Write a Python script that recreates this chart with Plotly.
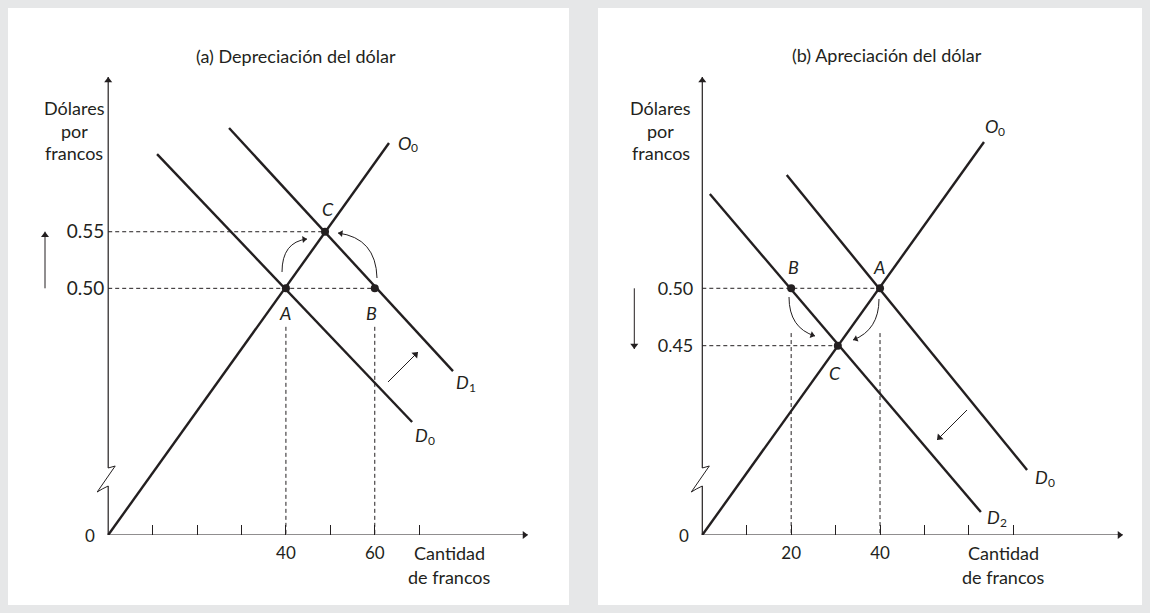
import math
import plotly.graph_objects as go

W, H = 1150, 613
INK = "#231f20"
BG = "#e6e7e8"
FONT = "Lato, 'Noto Sans', sans-serif"

# ---------------- data: panel (a) Depreciación del dólar ----------------
a_title = "(a) Depreciación del dólar"
a_x_ticks = [10, 20, 30, 40, 50, 60, 70]          # tick marks on the quantity axis
a_x_labeled = [40, 60]                             # labelled quantities
a_x_labels = ["40", "60"]
a_p0 = 0.2821                                      # price at the (broken) origin
a_y_ticks = [0.50, 0.55]
a_y_ticktext = ["0.50", "0.55"]
a_O0_q = [0.0, 63.2]
a_O0_p = [0.2821, 0.6284]
a_D0_q = [11.0, 68.4]
a_D0_p = [0.6186, 0.3819]
a_D1_q = [27.2, 77.6]
a_D1_p = [0.6416, 0.4269]
a_curve_names = [("O", "0"), ("D", "0"), ("D", "1")]
a_pt_labels = ["A", "B", "C"]
a_pt_q = [40, 60, 48.8]
a_pt_p = [0.50, 0.50, 0.55]
a_guide_top = 0.466

# ---------------- data: panel (b) Apreciación del dólar ----------------
b_title = "(b) Apreciación del dólar"
b_x_ticks = [10, 20, 30, 40, 50, 60, 70]
b_x_labeled = [20, 40]
b_x_labels = ["20", "40"]
b_p0 = 0.2851
b_y_ticks = [0.45, 0.50]
b_y_ticktext = ["0.45", "0.50"]
b_O0_q = [0.0, 63.4]
b_O0_p = [0.2851, 0.6274]
b_D0_q = [19.0, 73.1]
b_D0_p = [0.5987, 0.3417]
b_D2_q = [1.7, 62.7]
b_D2_p = [0.5821, 0.3051]
b_curve_names = [("O", "0"), ("D", "0"), ("D", "2")]
b_pt_labels = ["A", "B", "C"]
b_pt_q = [40, 20, 30.5]
b_pt_p = [0.50, 0.50, 0.45]
b_guide_top = 0.461

origin_label = "0"
y_label_lines = ["Dólares", "por", "francos"]
x_label_lines = ["Cantidad", "de francos"]

# ---------------- geometry (pixels) ----------------
PAN = {
    "a": dict(ox=108.2, oy=535.0, kx=4.443, ky=1132.0, p0=a_p0, xa="x", ya="y",
              panel=(8, 8, 569, 605), title_xy=(296, 56), ylab_x=74, xlab_x=449,
              ystand=4, yfs=19),
    "b": dict(ox=702.3, oy=535.0, kx=4.443, ky=1148.0, p0=b_p0, xa="x2", ya="y2",
              panel=(598, 8, 1142, 605), title_xy=(887, 55), ylab_x=661, xlab_x=1003,
              ystand=9, yfs=18),
}
YLAB_Y = [108, 131, 153]
XLAB_Y = [553, 577]
QMIN, QMAX = -20.0, 97.0
TOP_PX = 70.0
X_END_PX = {"a": 528.0, "b": 1123.0}
Y_END_PX = 77.0


def px2paper(px, py):
    return px / W, 1 - py / H


def to_data(g, px, py):
    return (px - g["ox"]) / g["kx"], g["p0"] + (g["oy"] - py) / g["ky"]


fig = go.Figure()
shapes = []
annotations = []

line_style = dict(color=INK, width=2.4)
dash_style = dict(color=INK, width=1, dash="4px,3px")


def add_line(g, q, p, style):
    fig.add_trace(go.Scatter(x=q, y=p, mode="lines", line=style, xaxis=g["xa"], yaxis=g["ya"],
                             hoverinfo="skip", showlegend=False))


def head(g, frm, to, size=7):
    dx, dy = to[0] - frm[0], to[1] - frm[1]
    n = math.hypot(dx, dy)
    ux, uy = dx / n, dy / n
    cx, cy = to[0] - ux * size * 0.5, to[1] - uy * size * 0.5
    q, p = to_data(g, cx, cy)
    ang = math.degrees(math.atan2(ux, -uy))
    fig.add_trace(go.Scatter(x=[q], y=[p], mode="markers", xaxis=g["xa"], yaxis=g["ya"],
                             marker=dict(symbol="triangle-up", size=size, angle=ang, color=INK,
                                         line=dict(width=0)),
                             cliponaxis=False, hoverinfo="skip", showlegend=False))


def arrow(g, tail, tip, width=1.0, size=7):
    t = to_data(g, *tail)
    e = to_data(g, *tip)
    add_line(g, [t[0], e[0]], [t[1], e[1]], dict(color=INK, width=width))
    head(g, tail, tip, size)


def curved_arrow(g, start, ctrl, end):
    s = to_data(g, *start)
    c = to_data(g, *ctrl)
    e = to_data(g, *end)
    shapes.append(dict(type="path", xref=g["xa"], yref=g["ya"],
                       path=f"M {s[0]},{s[1]} Q {c[0]},{c[1]} {e[0]},{e[1]}",
                       line=dict(color=INK, width=1)))
    head(g, ctrl, end, 6)


def label(g, q, p, text, xs, ys, size=18, xanchor="center", italic=False):
    annotations.append(dict(x=q, y=p, xref=g["xa"], yref=g["ya"], text=text, showarrow=False,
                            xshift=xs, yshift=ys, xanchor=xanchor, yanchor="middle",
                            font=dict(family=FONT, size=size, color=INK,
                                      style="italic" if italic else "normal")))


def text_paper(xy, text, size=18):
    x, y = px2paper(*xy)
    annotations.append(dict(x=x, y=y, xref="paper", yref="paper", text=text, showarrow=False,
                            xanchor="center", yanchor="middle", align="center",
                            font=dict(family=FONT, size=size, color=INK)))


panels = {
    "a": dict(title=a_title, curves=[(a_O0_q, a_O0_p, 7, 0), (a_D0_q, a_D0_p, 1, -13),
                                     (a_D1_q, a_D1_p, 1, -11)],
              names=a_curve_names,
              pts=(a_pt_labels, a_pt_q, a_pt_p), ticks=a_x_ticks, xt=(a_x_labeled, a_x_labels),
              yt=(a_y_ticks, a_y_ticktext), guide=a_guide_top,
              lab_shift={"A": (-1, -25), "B": (-3, -25), "C": (3, 23)}),
    "b": dict(title=b_title, curves=[(b_O0_q, b_O0_p, -1, 16), (b_D0_q, b_D0_p, 6, -7),
                                     (b_D2_q, b_D2_p, 4, -5)],
              names=b_curve_names,
              pts=(b_pt_labels, b_pt_q, b_pt_p), ticks=b_x_ticks, xt=(b_x_labeled, b_x_labels),
              yt=(b_y_ticks, b_y_ticktext), guide=b_guide_top,
              lab_shift={"A": (-1, 21), "B": (2, 21), "C": (-3, -27)}),
}

layout_axes = {}
for key, g in PAN.items():
    d = panels[key]
    # white panel
    x0, y0, x1, y1 = g["panel"]
    px0, py0 = px2paper(x0, y1)
    px1, py1 = px2paper(x1, y0)
    shapes.append(dict(type="rect", xref="paper", yref="paper", x0=px0, y0=py0, x1=px1, y1=py1,
                       fillcolor="white", line=dict(width=0), layer="below"))
    # axes
    xl = (g["ox"] + QMIN * g["kx"]) / W
    xr = (g["ox"] + QMAX * g["kx"]) / W
    yb = 1 - g["oy"] / H
    yt = 1 - TOP_PX / H
    ptop = g["p0"] + (g["oy"] - TOP_PX) / g["ky"]
    xname = "xaxis" if g["xa"] == "x" else "xaxis2"
    yname = "yaxis" if g["ya"] == "y" else "yaxis2"
    layout_axes[xname] = dict(domain=[xl, xr], range=[QMIN, QMAX], anchor=g["ya"],
                              showgrid=False, zeroline=False, showline=False,
                              tickmode="array", tickvals=d["xt"][0], ticktext=d["xt"][1],
                              ticks="inside", ticklen=10, tickwidth=1.2, tickcolor=INK,
                              minor=dict(tickmode="array", tickvals=d["ticks"], ticks="inside",
                                         ticklen=10, tickwidth=1.2, tickcolor=INK, showgrid=False),
                              ticklabelstandoff=6,
                              tickfont=dict(family=FONT, size=17, color=INK), fixedrange=True)
    layout_axes[yname] = dict(domain=[yb, yt], range=[g["p0"], ptop], anchor="free",
                              position=g["ox"] / W,
                              showgrid=False, zeroline=False, showline=False, ticks="",
                              tickmode="array", tickvals=d["yt"][0], ticktext=d["yt"][1],
                              ticklabelstandoff=g["ystand"],
                              tickfont=dict(family=FONT, size=g["yfs"], color=INK), fixedrange=True)
    label(g, 0, g["p0"], origin_label, -11, 0, size=17, xanchor="right")

    # axis lines with arrows
    arrow(g, (g["ox"], g["oy"]), (X_END_PX[key], g["oy"]), width=1.2, size=7)
    # y axis with break
    brk_lo = to_data(g, g["ox"], 486)
    shapes.append(dict(type="line", xref=g["xa"], yref=g["ya"], x0=0, y0=g["p0"], x1=0, y1=brk_lo[1],
                       line=dict(color=INK, width=1.2)))
    zz = [to_data(g, g["ox"], 468), to_data(g, g["ox"] + 7, 466), to_data(g, g["ox"] - 11, 492),
          to_data(g, g["ox"] - 6, 489), to_data(g, g["ox"], 486)]
    shapes.append(dict(type="path", xref=g["xa"], yref=g["ya"],
                       path="M " + " L ".join(f"{q},{p}" for q, p in zz),
                       line=dict(color=INK, width=1)))
    arrow(g, (g["ox"], 468), (g["ox"], Y_END_PX), width=1.2, size=7)

    # dashed guides
    labs, qs, ps = d["pts"]
    for pv in sorted(set(ps)):
        qmax = max(q for q, p in zip(qs, ps) if p == pv)
        add_line(g, [0, qmax], [pv, pv], dash_style)
    for qv in d["xt"][0]:
        add_line(g, [qv, qv], [d["guide"], g["p0"]], dash_style)

    # curves with italic names and subscripts
    for (q, p, xs, ys), (letter, sub) in zip(d["curves"], d["names"]):
        add_line(g, q, p, line_style)
        label(g, q[-1], p[-1], letter, xs, ys, size=18, xanchor="left", italic=True)
        label(g, q[-1], p[-1], sub, xs + 13, ys - 5, size=12, xanchor="left")

    # points
    fig.add_trace(go.Scatter(x=qs, y=ps, mode="markers", marker=dict(color=INK, size=8),
                             xaxis=g["xa"], yaxis=g["ya"], hoverinfo="skip", showlegend=False))
    for lab, q, p in zip(labs, qs, ps):
        xs, ys = d["lab_shift"][lab]
        label(g, q, p, lab, xs, ys, size=18, italic=True)

    # texts
    text_paper(g["title_xy"], d["title"], size=18)
    for t, yy in zip(y_label_lines, YLAB_Y):
        text_paper((g["ylab_x"], yy), t, size=18)
    for t, yy in zip(x_label_lines, XLAB_Y):
        text_paper((g["xlab_x"], yy), t, size=18)

# decorations: arrows
A = PAN["a"]
B = PAN["b"]
curved_arrow(A, (282, 272), (282, 242), (307, 239))
curved_arrow(A, (377, 278), (376, 238), (338, 233))
arrow(A, (388, 382), (418, 352))
arrow(A, (45, 288.3), (45, 231.7))
curved_arrow(B, (789, 297), (789, 328), (815, 336))
curved_arrow(B, (879, 299), (879, 330), (853, 340))
arrow(B, (967, 410), (937, 440))
arrow(B, (634.3, 288.3), (634.3, 349))

fig.update_layout(
    width=W, height=H, margin=dict(l=0, r=0, t=0, b=0),
    paper_bgcolor=BG, plot_bgcolor="rgba(0,0,0,0)",
    shapes=shapes, annotations=annotations, showlegend=False,
    font=dict(family=FONT, color=INK),
    **layout_axes,
)

fig.write_html("out.html", config={"displayModeBar": False},
               post_script="document.body.style.margin='0px';document.body.style.overflow='hidden';")
